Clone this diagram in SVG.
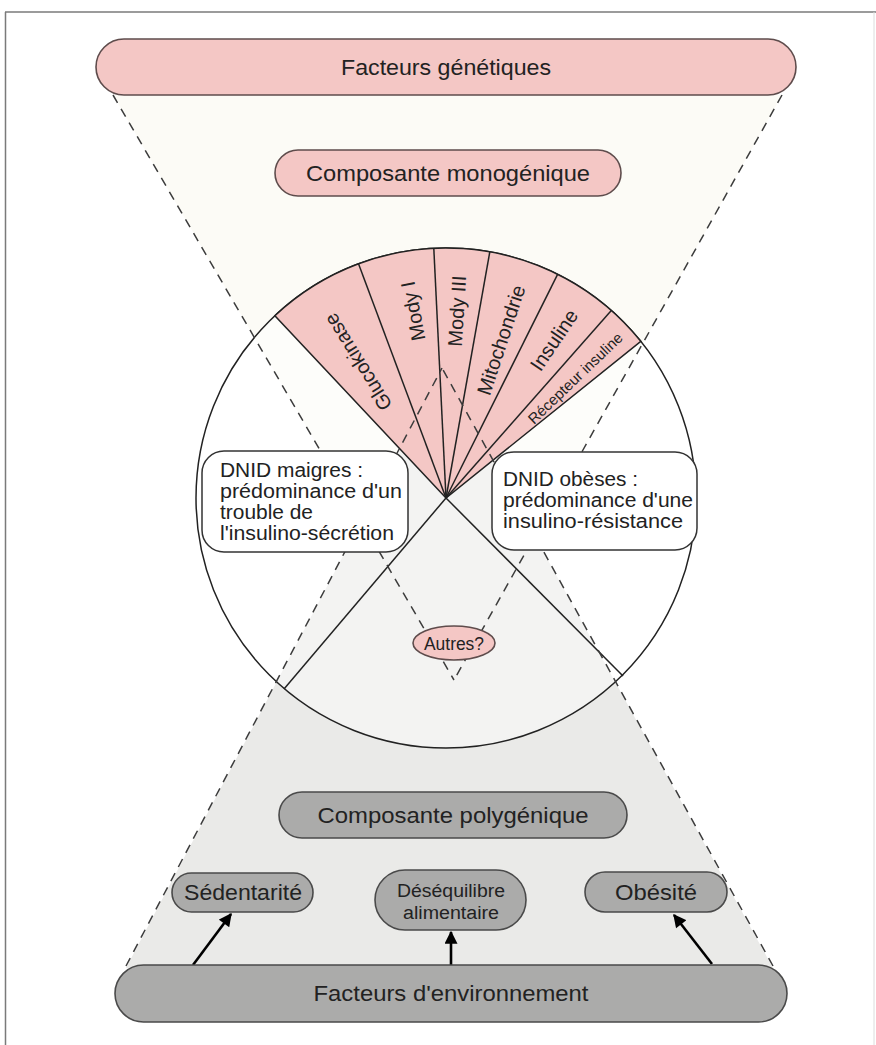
<svg xmlns="http://www.w3.org/2000/svg" width="876" height="1045" viewBox="0 0 876 1045">
<defs>
<style>
.t{font-family:"Liberation Sans",Arial,sans-serif;fill:#222;}
.pk{fill:#f4c7c5;stroke:#5e4c4c;stroke-width:1.6;}
.gy{fill:#ababaa;stroke:#4a4a4a;stroke-width:1.6;}
.bx{fill:#fff;stroke:#333;stroke-width:1.5;}
.ln{stroke:#222;stroke-width:1.5;fill:none;}
.ds{stroke:#3c3c3c;stroke-width:1.5;fill:none;stroke-dasharray:9 7;}
.ar{stroke:#000;stroke-width:2.6;fill:none;}
</style>
<marker id="ah" viewBox="0 0 10 10" refX="9" refY="5" markerWidth="5.5" markerHeight="5" orient="auto" markerUnits="strokeWidth">
<path d="M0,0 L10,5 L0,10 Z" fill="#000"/>
</marker>
</defs>
<rect width="876" height="1045" fill="#fff"/>
<g id="frame">
<line x1="5" y1="12" x2="876" y2="12" stroke="#7a7a7a" stroke-width="1.5"/>
<line x1="5.5" y1="12" x2="5.5" y2="1045" stroke="#7a7a7a" stroke-width="1.5"/>
<line x1="874" y1="12" x2="874" y2="1045" stroke="#dcdcdc" stroke-width="1"/>
</g>
<g id="zones">
<polygon points="113,95 782,95 454,680" fill="#fcfbf6"/>
<polygon points="126,968 773,968 442,368" fill="#eaeae8"/>
</g>
<g id="circle">
<circle cx="446" cy="498" r="250" fill="#fff" fill-opacity="0.45" stroke="#222" stroke-width="1.5"/>
<path d="M446,498 L274.9,315.7 A250,250 0 0,1 640.8,341.3 Z" fill="#f4c7c5" stroke="#222" stroke-width="1.5"/>
</g>
<g id="connectors">
<g class="ln">
<line x1="446" y1="498" x2="358.5" y2="263.8"/>
<line x1="446" y1="498" x2="433.8" y2="248.3"/>
<line x1="446" y1="498" x2="489.8" y2="251.9"/>
<line x1="446" y1="498" x2="557.6" y2="274.3"/>
<line x1="446" y1="498" x2="611.3" y2="310.5"/>
<line x1="446" y1="498" x2="284" y2="689"/>
<line x1="446" y1="498" x2="623" y2="676"/>
</g>
<g class="ds">
<line x1="113" y1="95" x2="454" y2="680"/>
<line x1="782" y1="95" x2="454" y2="680"/>
<line x1="126" y1="966" x2="442" y2="368"/>
<line x1="773" y1="966" x2="442" y2="368"/>
</g>
<g class="ar">
<line x1="193" y1="965" x2="231" y2="914" marker-end="url(#ah)"/>
<line x1="451" y1="965" x2="451" y2="932" marker-end="url(#ah)"/>
<line x1="712" y1="964" x2="674" y2="915" marker-end="url(#ah)"/>
</g>
</g>
<g id="wedge-labels" class="t" font-size="20" text-anchor="middle" dominant-baseline="central">
<text transform="translate(358,362) rotate(-122)">Glucokinase</text>
<text transform="translate(413,311) rotate(-101)">Mody I</text>
<text transform="translate(457,311) rotate(-86.4)">Mody III</text>
<text transform="translate(501,340) rotate(-71.7)">Mitochondrie</text>
<text transform="translate(554,340) rotate(-56)">Insuline</text>
<text transform="translate(575,378) rotate(-43.7)" font-size="15">Récepteur insuline</text>
</g>
<g id="dnid-maigres">
<rect class="bx" x="202" y="451" width="206" height="101" rx="22"/>
<g class="t" font-size="19.5">
<text x="220" y="477" textLength="143" lengthAdjust="spacingAndGlyphs">DNID maigres :</text>
<text x="220" y="498" textLength="182" lengthAdjust="spacingAndGlyphs">prédominance d'un</text>
<text x="220" y="519" textLength="93" lengthAdjust="spacingAndGlyphs">trouble de</text>
<text x="220" y="540" textLength="174" lengthAdjust="spacingAndGlyphs">l'insulino-sécrétion</text>
</g>
</g>
<g id="dnid-obeses">
<rect class="bx" x="492" y="452" width="205" height="98" rx="22"/>
<g class="t" font-size="19.5">
<text x="503" y="486" textLength="135" lengthAdjust="spacingAndGlyphs">DNID obèses :</text>
<text x="503" y="507" textLength="190" lengthAdjust="spacingAndGlyphs">prédominance d'une</text>
<text x="503" y="528" textLength="180" lengthAdjust="spacingAndGlyphs">insulino-résistance</text>
</g>
</g>
<g id="autres">
<ellipse class="pk" cx="454" cy="643" rx="41" ry="17"/>
<text class="t" x="454" y="650" font-size="17.5" text-anchor="middle" textLength="60" lengthAdjust="spacingAndGlyphs">Autres?</text>
</g>
<g id="facteurs-genetiques">
<rect class="pk" x="96" y="39" width="700" height="56" rx="28"/>
<text class="t" x="446" y="75" font-size="22" text-anchor="middle" textLength="210" lengthAdjust="spacingAndGlyphs">Facteurs génétiques</text>
</g>
<g id="composante-monogenique">
<rect class="pk" x="275" y="150" width="346" height="46" rx="23"/>
<text class="t" x="448" y="181" font-size="22" text-anchor="middle" textLength="284" lengthAdjust="spacingAndGlyphs">Composante monogénique</text>
</g>
<g id="composante-polygenique">
<rect class="gy" x="279" y="792" width="348" height="46" rx="23"/>
<text class="t" x="453" y="823" font-size="22" text-anchor="middle" textLength="271" lengthAdjust="spacingAndGlyphs">Composante polygénique</text>
</g>
<g id="sedentarite">
<rect class="gy" x="172" y="873" width="141" height="39" rx="19.5"/>
<text class="t" x="243" y="900" font-size="22" text-anchor="middle" textLength="118" lengthAdjust="spacingAndGlyphs">Sédentarité</text>
</g>
<g id="desequilibre">
<rect class="gy" x="375" y="870" width="151" height="60" rx="30"/>
<text class="t" x="451" y="897" font-size="18" text-anchor="middle" textLength="108" lengthAdjust="spacingAndGlyphs">Déséquilibre</text>
<text class="t" x="451" y="919" font-size="18" text-anchor="middle" textLength="96" lengthAdjust="spacingAndGlyphs">alimentaire</text>
</g>
<g id="obesite">
<rect class="gy" x="585" y="872" width="142" height="40" rx="20"/>
<text class="t" x="656" y="900" font-size="22" text-anchor="middle" textLength="82" lengthAdjust="spacingAndGlyphs">Obésité</text>
</g>
<g id="facteurs-environnement">
<rect class="gy" x="115" y="965" width="672" height="57" rx="28.5"/>
<text class="t" x="451" y="1001" font-size="22" text-anchor="middle" textLength="275" lengthAdjust="spacingAndGlyphs">Facteurs d'environnement</text>
</g>
</svg>
